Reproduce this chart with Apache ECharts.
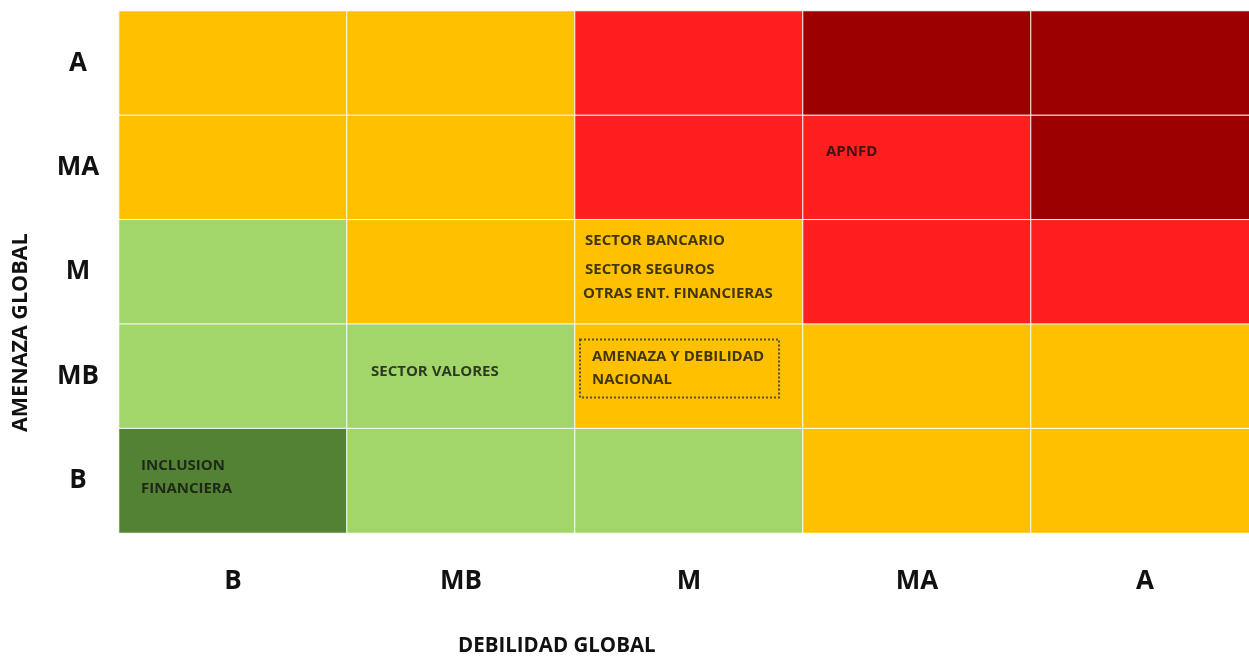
<!DOCTYPE html>
<html>
<head>
<meta charset="utf-8">
<style>
  html, body { margin: 0; padding: 0; background: #fff; }
  #chart { width: 1249px; height: 664px; }
</style>
<script src="https://cdn.jsdelivr.net/npm/echarts@6/dist/echarts.min.js"></script>
</head>
<body>
<div id="chart"></div>
<script>
// Axis categories
const debilidad = ['B', 'MB', 'M', 'MA', 'A'];   // x axis, left to right
const amenaza = ['B', 'MB', 'M', 'MA', 'A'];     // y axis, bottom to top

// Risk level per cell, rows listed from top (A) to bottom (B)
// 1 = dark green, 2 = light green, 3 = orange, 4 = red, 5 = dark red
const levelRows = [
  [3, 3, 4, 5, 5],  // A
  [3, 3, 4, 4, 5],  // MA
  [2, 3, 3, 4, 4],  // M
  [2, 2, 3, 3, 3],  // MB
  [1, 2, 2, 3, 3]   // B
];

const levelColors = ['#548235', '#A2D66A', '#FFC000', '#FF1F1F', '#9C0000'];

// Sectors placed in the matrix: [debilidad, amenaza, text]
const sectores = [
  ['M', 'M', 'SECTOR BANCARIO'],
  ['M', 'M', 'SECTOR SEGUROS'],
  ['M', 'M', 'OTRAS ENT. FINANCIERAS'],
  ['MA', 'MA', 'APNFD'],
  ['MB', 'MB', 'SECTOR VALORES'],
  ['B', 'B', 'INCLUSION\nFINANCIERA']
];
const nacional = ['M', 'MB', 'AMENAZA Y DEBILIDAD\nNACIONAL'];

// label offsets from the cell centre, in order of sectores
const offsets = [[-104, -31], [-104, -2], [-106, 22], [-91, -16], [-90, -5], [-92, -4]];

const heatData = [];
levelRows.forEach((row, r) => {
  const yName = amenaza[amenaza.length - 1 - r];
  row.forEach((v, c) => heatData.push([debilidad[c], yName, v]));
});

const textFont = '"Open Sans", sans-serif';

const chart = echarts.init(document.getElementById('chart'));
const option = {
  animation: false,
  grid: { left: 119, width: 1140, top: 11, height: 522, outerBoundsMode: 'none', containLabel: false },
  xAxis: {
    type: 'category',
    data: debilidad,
    axisLine: { show: false },
    axisTick: { show: false },
    splitArea: { show: false },
    axisLabel: {
      margin: 36,
      fontSize: 26,
      fontWeight: 'bold',
      color: '#111',
      fontFamily: textFont
    }
  },
  yAxis: {
    type: 'category',
    data: amenaza,
    axisLine: { show: false },
    axisTick: { show: false },
    splitArea: { show: false },
    axisLabel: {
      margin: 41,
      align: 'center',
      fontSize: 26,
      fontWeight: 'bold',
      color: '#111',
      fontFamily: textFont
    }
  },
  visualMap: {
    show: false,
    type: 'piecewise',
    dimension: 2,
    seriesIndex: 0,
    pieces: levelColors.map((c, i) => ({ value: i + 1, color: c }))
  },
  graphic: [
    {
      type: 'text',
      left: 458,
      top: 636,
      style: {
        text: 'DEBILIDAD GLOBAL',
        font: 'bold 20.5px ' + textFont,
        fill: '#111'
      }
    },
    {
      type: 'text',
      x: 10,
      y: 432,
      rotation: Math.PI / 2,
      style: {
        text: 'AMENAZA GLOBAL',
        font: 'bold 21.5px ' + textFont,
        fill: '#111'
      }
    }
  ],
  series: [
    {
      type: 'heatmap',
      data: heatData,
      itemStyle: { borderColor: '#fff', borderWidth: 1 },
      emphasis: { disabled: true }
    },
    {
      type: 'scatter',
      symbolSize: 0,
      silent: true,
      data: sectores.map((s, i) => ({
        value: [s[0], s[1]],
        label: {
          show: true,
          formatter: s[2],
          position: offsets[i],
          align: 'left',
          verticalAlign: 'middle',
          fontSize: 15,
          lineHeight: 23,
          fontWeight: 'bold',
          color: '#111',
          fontFamily: textFont
        }
      }))
    },
    {
      type: 'scatter',
      symbolSize: 0,
      silent: true,
      data: [{
        value: [nacional[0], nacional[1]],
        label: {
          show: true,
          formatter: nacional[2],
          position: [-109, -37],
          align: 'left',
          verticalAlign: 'top',
          width: 175,
          height: 46,
          padding: [6, 12, 6, 12],
          fontSize: 15,
          lineHeight: 23,
          fontWeight: 'bold',
          color: '#111',
          fontFamily: textFont,
          borderColor: '#333',
          borderWidth: 2,
          borderType: [2, 2]
        }
      }]
    }
  ]
};
chart.setOption(option);
</script>
</body>
</html>
